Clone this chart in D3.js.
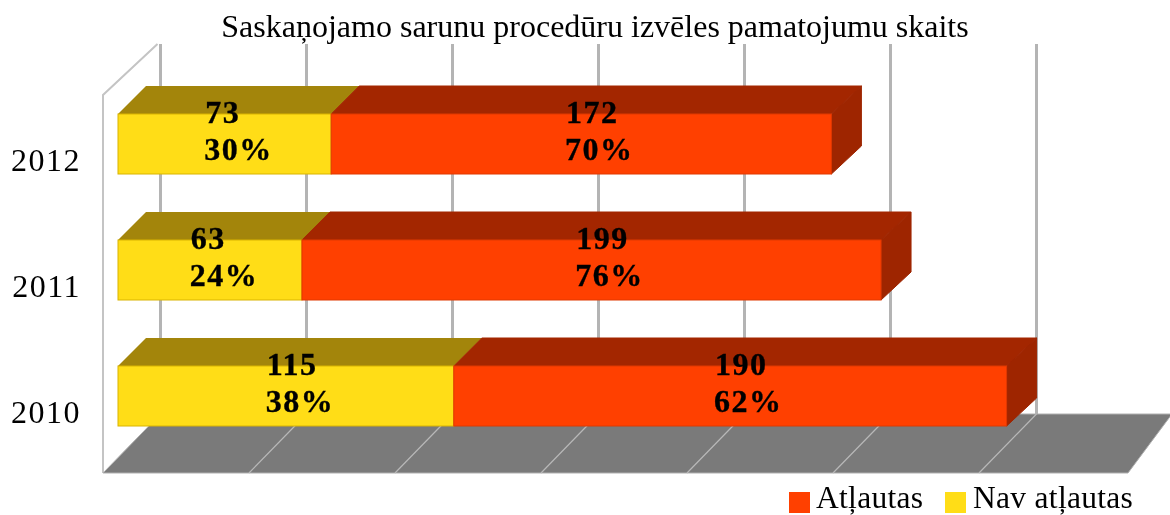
<!DOCTYPE html>
<html><head><meta charset="utf-8">
<script src="https://cdn.jsdelivr.net/npm/d3@7"></script>
<style>
html,body{margin:0;padding:0;background:#fff}
svg{display:block;filter:blur(0.55px)}
text{font-family:"Liberation Serif","Times New Roman",serif;fill:#000}
</style></head><body>
<svg id="c" width="1170" height="515"></svg>
<script>
const titleText = "Saskaņojamo sarunu procedūru izvēles pamatojumu skaits";
const years = ["2012", "2011", "2010"];
const notAllowed = [73, 63, 115];
const allowed = [172, 199, 190];
const notAllowedPct = [30, 24, 38];
const allowedPct = [70, 76, 62];
const axisTicks = [0, 50, 100, 150, 200, 250, 300];
const legendLabels = ["Atļautas", "Nav atļautas"];

const colors = {
  yellow: "#FFDD17", yellowTop: "#A3850B", yellowEdge: "#D9B400",
  red: "#FF4000", redTop: "#A32600", redSide: "#9E2500", redEdge: "#E03800",
  floor: "#7A7A7A", grid: "#B4B4B4", floorLine: "#B8B8B8"
};

const svg = d3.select("#c");
const depth = 28, backY = 414, frontY = 473, wallTop = 44;
const x = d3.scaleLinear().domain([0, 300]).range([118, 994]);
const y = d3.scaleBand().domain(years).range([114, 426]).paddingInner(66 / 126);
const h = y.bandwidth();
const gridX = v => x(v) + 42.5;    // back wall
const floorX = v => x(v) - 15;     // front edge of the floor

// title
svg.append("text").attr("x", 595).attr("y", 37).attr("text-anchor", "middle")
  .attr("font-size", 32).text(titleText);

// wall
svg.append("path").attr("fill", "none").attr("stroke", "#C4C4C4").attr("stroke-width", 2)
  .attr("d", d3.line()([[floorX(0), frontY], [floorX(0), 95], [gridX(0) - 3, wallTop]]));

// gridlines
svg.append("g").selectAll("line").data(axisTicks).join("line")
  .attr("x1", gridX).attr("x2", gridX).attr("y1", wallTop).attr("y2", backY)
  .attr("stroke", colors.grid).attr("stroke-width", 3);

// floor
svg.append("path").attr("fill", colors.floor).attr("stroke", "#B0B0B0").attr("stroke-width", 1)
  .attr("d", d3.line()([[floorX(0), frontY], [1128, frontY], [1172, backY], [gridX(0), backY]]) + "Z");
svg.append("g").selectAll("line").data(axisTicks.slice(1)).join("line")
  .attr("x1", floorX).attr("y1", frontY).attr("x2", gridX).attr("y2", backY)
  .attr("stroke", colors.floorLine).attr("stroke-width", 1.2);

// bars
const poly = pts => d3.line()(pts) + "Z";
years.forEach((yr, i) => {
  const g = svg.append("g");
  const t = y(yr), b = t + h;
  const x0 = x(0), x1 = x(notAllowed[i]), x2b = x(notAllowed[i] + allowed[i]), x2 = x2b - 2;
  g.append("path").attr("fill", colors.yellowTop)
    .attr("d", poly([[x0, t], [x0 + depth, t - depth], [x1 + depth, t - depth], [x1, t]]));
  g.append("path").attr("fill", colors.redTop).attr("stroke", colors.redTop).attr("stroke-linejoin", "round")
    .attr("d", poly([[x1, t], [x1 + depth, t - depth], [x2b + depth, t - depth], [x2, t]]));
  g.append("path").attr("fill", colors.redSide).attr("stroke", colors.redSide).attr("stroke-linejoin", "round")
    .attr("d", poly([[x2, t], [x2b + depth, t - depth], [x2b + depth, t - depth + h], [x2, b]]));
  g.append("rect").attr("x", x0).attr("y", t).attr("width", x1 - x0).attr("height", h)
    .attr("fill", colors.yellow).attr("stroke", colors.yellowEdge).attr("stroke-width", 1);
  g.append("rect").attr("x", x1).attr("y", t).attr("width", x2 - x1).attr("height", h)
    .attr("fill", colors.red).attr("stroke", colors.redEdge).attr("stroke-width", 1);

  [[x0, x1, notAllowed[i], notAllowedPct[i], 14], [x1, x2, allowed[i], allowedPct[i], 18]].forEach(([a, c, v, p, off]) => {
    const mid = (a + c) / 2 + off;
    const lbl = g.append("g").attr("font-weight", "bold").attr("font-size", 32).attr("letter-spacing", 1.5)
      .attr("stroke", "#000").attr("stroke-width", 0.35);
    const pctT = lbl.append("text").attr("y", t + 46).text(p + "%");
    const left = mid - pctT.node().getComputedTextLength() / 2;
    pctT.attr("x", left);
    lbl.append("text").attr("x", left + 1).attr("y", t + 9).text(v);
  });
});

// year axis
const axis = svg.append("g").attr("transform", "translate(81,17)")
  .call(d3.axisLeft(y).tickSize(0).tickPadding(0));
axis.select(".domain").remove();
axis.selectAll("text").attr("font-size", 32).attr("letter-spacing", 1.5)
  .style("font-family", '"Liberation Serif",serif').attr("fill", "#000");

// legend
const legend = svg.append("g");
const legendX = [789, 945], legendColors = [colors.red, colors.yellow], legendTextX = [816, 973];
legendLabels.forEach((l, i) => {
  legend.append("rect").attr("x", legendX[i]).attr("y", 492).attr("width", 21).attr("height", 21)
    .attr("fill", legendColors[i]);
  legend.append("text").attr("x", legendTextX[i]).attr("y", 508).attr("font-size", 31.5)
    .attr("letter-spacing", 0.3).text(l);
});
</script>
</body></html>
